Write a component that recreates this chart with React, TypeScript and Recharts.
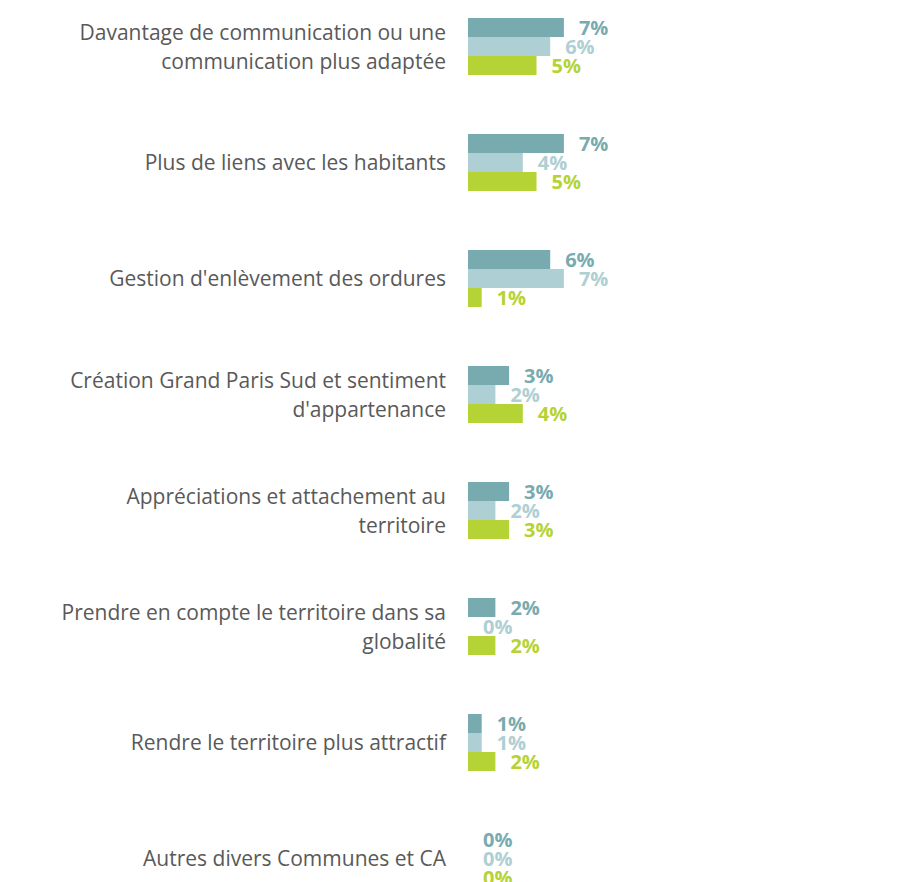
import { BarChart, Bar, XAxis, YAxis, LabelList } from "recharts"

const categories = [
  "Davantage de communication ou une\ncommunication plus adaptée",
  "Plus de liens avec les habitants",
  "Gestion d'enlèvement des ordures",
  "Création Grand Paris Sud et sentiment\nd'appartenance",
  "Appréciations et attachement au\nterritoire",
  "Prendre en compte le territoire dans sa\nglobalité",
  "Rendre le territoire plus attractif",
  "Autres divers Communes et CA",
]

const serieA = [7, 7, 6, 3, 3, 2, 1, 0]
const serieB = [6, 4, 7, 2, 2, 0, 1, 0]
const serieC = [5, 5, 1, 4, 3, 2, 2, 0]

const colors = ["#78abb0", "#aecfd3", "#b5d334"]

const data = categories.map((name, i) => ({
  name,
  a: serieA[i],
  b: serieB[i],
  c: serieC[i],
}))

const FONT = "'Open Sans', sans-serif"

function CategoryTick(props: any) {
  const { y, payload } = props
  const lines: string[] = String(payload.value).split("\n")
  const lh = 29
  const start = y - ((lines.length - 1) * lh) / 2
  return (
    <text
      x={438}
      y={start}
      textAnchor="end"
      fill="#595959"
      fontSize={21}
      fontFamily={FONT}
      dominantBaseline="central"
    >
      {lines.map((l, i) => (
        <tspan key={i} x={438} y={start + i * lh}>
          {l}
        </tspan>
      ))}
    </text>
  )
}

export default function App() {
  return (
    <div style={{ position: "relative", top: -20.5 }}>
      <BarChart
        width={900}
        height={928}
        data={data}
        layout="vertical"
        margin={{ top: 0, right: 29, bottom: 0, left: 0 }}
        barGap={0}
      >
        <XAxis type="number" domain={[0, 30]} hide />
        <YAxis
          type="category"
          dataKey="name"
          width={460}
          axisLine={false}
          tickLine={false}
          tick={<CategoryTick />}
          interval={0}
        />
        {(["a", "b", "c"] as const).map((k, i) => (
          <Bar
            key={k}
            dataKey={k}
            fill={colors[i]}
            barSize={19}
            minPointSize={0.01}
            isAnimationActive={false}
          >
            <LabelList
              dataKey={k}
              position="right"
              offset={15}
              formatter={(v: any) => `${v}%`}
              fill={colors[i]}
              fontSize={20}
              fontWeight="bold"
              fontFamily={FONT}
            />
          </Bar>
        ))}
      </BarChart>
    </div>
  )
}
